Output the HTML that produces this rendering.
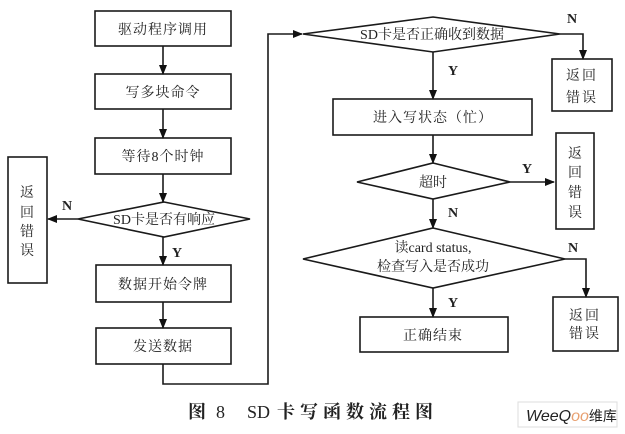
<!DOCTYPE html>
<html><head><meta charset="utf-8">
<style>
html,body{margin:0;padding:0;background:#fff;}
svg{display:block;}
text{font-family:"Liberation Serif","Noto Serif CJK SC",serif;fill:#222;}
</style></head>
<body>
<svg width="625" height="434" viewBox="0 0 625 434" xmlns="http://www.w3.org/2000/svg">
<defs>
<marker id="a" markerWidth="10" markerHeight="8" refX="9" refY="4" orient="auto" markerUnits="userSpaceOnUse">
<path d="M0,0 L10,4 L0,8 Z" fill="#111"/>
</marker>
</defs>
<g stroke="#1a1a1a" stroke-width="1.6" fill="none">
<rect x="95" y="11" width="136" height="35"/>
<rect x="95" y="74" width="136" height="35"/>
<rect x="95" y="138" width="136" height="36"/>
<polygon points="164,202 250,219 164,237 78,219"/>
<rect x="96" y="265" width="135" height="37"/>
<rect x="96" y="328" width="135" height="36"/>
<rect x="8" y="157" width="39" height="126"/>
<line x1="163" y1="46" x2="163" y2="74" marker-end="url(#a)"/>
<line x1="163" y1="109" x2="163" y2="138" marker-end="url(#a)"/>
<line x1="163" y1="174" x2="163" y2="202" marker-end="url(#a)"/>
<line x1="163" y1="237" x2="163" y2="265" marker-end="url(#a)"/>
<line x1="163" y1="302" x2="163" y2="328" marker-end="url(#a)"/>
<line x1="78" y1="219" x2="48" y2="219" marker-end="url(#a)"/>
<polyline points="163,364 163,384 268,384 268,34 302,34" marker-end="url(#a)"/>
<polygon points="433,17 560,34 433,52 303,34"/>
<polyline points="560,34 583,34 583,59" marker-end="url(#a)"/>
<rect x="552" y="59" width="60" height="52"/>
<line x1="433" y1="52" x2="433" y2="99" marker-end="url(#a)"/>
<rect x="333" y="99" width="199" height="36"/>
<line x1="433" y1="135" x2="433" y2="163" marker-end="url(#a)"/>
<polygon points="433,163 510,182 433,199 357,182"/>
<line x1="510" y1="182" x2="554" y2="182" marker-end="url(#a)"/>
<rect x="556" y="133" width="38" height="96"/>
<line x1="433" y1="199" x2="433" y2="228" marker-end="url(#a)"/>
<polygon points="433,228 565,259 433,288 303,259"/>
<polyline points="565,259 586,259 586,297" marker-end="url(#a)"/>
<rect x="553" y="297" width="65" height="54"/>
<line x1="433" y1="288" x2="433" y2="317" marker-end="url(#a)"/>
<rect x="360" y="317" width="148" height="35"/>
</g>
<g font-size="14" text-anchor="middle">
<text x="163" y="34" letter-spacing="1">驱动程序调用</text>
<text x="163" y="97" letter-spacing="1">写多块命令</text>
<text x="163" y="161" letter-spacing="1">等待8个时钟</text>
<text x="164" y="224">SD卡是否有响应</text>
<text x="163" y="289" letter-spacing="1">数据开始令牌</text>
<text x="163" y="351" letter-spacing="1">发送数据</text>
<text x="27" y="197">返</text>
<text x="27" y="217">回</text>
<text x="27" y="236">错</text>
<text x="27" y="255">误</text>
<text x="432" y="39">SD卡是否正确收到数据</text>
<text x="582" y="80" letter-spacing="2">返回</text>
<text x="582" y="102" letter-spacing="2">错误</text>
<text x="433" y="122" letter-spacing="1">进入写状态（忙）</text>
<text x="433" y="187">超时</text>
<text x="575" y="158">返</text>
<text x="575" y="177">回</text>
<text x="575" y="197">错</text>
<text x="575" y="217">误</text>
<text x="433" y="252">读card status,</text>
<text x="433" y="271">检查写入是否成功</text>
<text x="585" y="320" letter-spacing="2">返回</text>
<text x="585" y="338" letter-spacing="2">错误</text>
<text x="433" y="340" letter-spacing="1">正确结束</text>
</g>
<g font-size="14" font-weight="bold" text-anchor="middle">
<text x="67" y="210">N</text>
<text x="177" y="257">Y</text>
<text x="572" y="23">N</text>
<text x="453" y="75">Y</text>
<text x="527" y="173">Y</text>
<text x="453" y="217">N</text>
<text x="573" y="252">N</text>
<text x="453" y="307">Y</text>
</g>
<text x="188" y="418" font-size="18" font-weight="bold">图</text>
<text x="216" y="418" font-size="18">8</text>
<text x="247" y="418" font-size="18">SD</text>
<text x="277" y="418" font-size="18" font-weight="bold" letter-spacing="5">卡写函数流程图</text>
<rect x="518" y="402" width="99" height="25" fill="#fff" stroke="#ddd" stroke-width="1"/>
<text x="526" y="421" font-size="16" font-style="italic" style="font-family:'Liberation Sans',sans-serif" fill="#aaa">WeeQ<tspan fill="#e8a070">oo</tspan><tspan font-style="normal" font-size="14" style="font-family:'Noto Sans CJK SC',sans-serif">维库</tspan></text>
</svg>
</body></html>
